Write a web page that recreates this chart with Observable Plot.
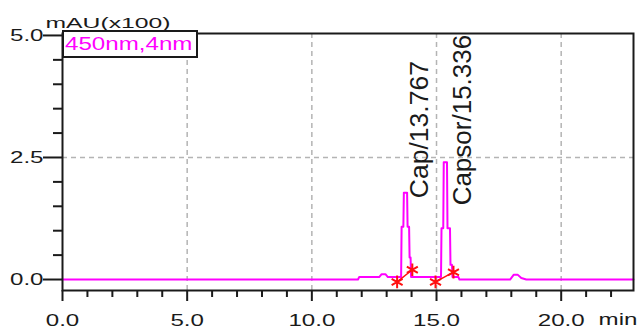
<!DOCTYPE html>
<html>
<head>
<meta charset="utf-8">
<script src="https://cdn.jsdelivr.net/npm/d3@7"></script>
<script src="https://cdn.jsdelivr.net/npm/@observablehq/plot@0.6"></script>
<style>
  html, body { margin: 0; padding: 0; background: #fff; }
  #chart { width: 639px; height: 328px; overflow: hidden; }
</style>
</head>
<body>
<div id="chart"></div>
<script>
// ---- data ----
const sigTime  = [0, 11.85, 11.9, 12.7, 12.8, 12.95, 13.05, 13.58, 13.6, 13.67, 13.69, 13.82, 13.84, 13.9, 13.92, 13.96, 13.98, 15.18, 15.2, 15.27, 15.29, 15.42, 15.44, 15.54, 15.56, 15.62, 15.64, 15.88, 15.92, 17.95, 18.1, 18.25, 18.4, 18.6, 22.9];
const sigValue = [0, 0, 0.05, 0.05, 0.11, 0.11, 0.05, 0.05, 1.08, 1.08, 1.78, 1.78, 1.08, 1.08, 0.45, 0.45, 0.05, 0.05, 1.05, 1.05, 2.40, 2.40, 1.05, 1.05, 0.30, 0.30, 0.05, 0.05, 0, 0, 0.1, 0.1, 0.03, 0, 0];

const peakNames = ["Cap", "Capsor"];
const peakRT    = [13.767, 15.336];
const peakApex  = [1.78, 2.40];

const markerTime  = [13.42, 14.03, 14.96, 15.68];
const markerValue = [-0.05, 0.2, -0.05, 0.15];
const markerPeak  = ["Cap", "Cap", "Capsor", "Capsor"];

const xMajor = [0, 5, 10, 15, 20];
const xMinor = [1, 2, 3, 4, 6, 7, 8, 9, 11, 12, 13, 14, 16, 17, 18, 19, 21, 22];
const yMajor = [0, 2.5, 5];
const yMinor = [0.5, 1, 1.5, 2, 3, 3.5, 4, 4.5];
const xGrid = [5, 10, 15, 20];
const yGrid = [2.5];

const unitLabel = "mAU(x100)";
const timeUnit = "min";
const legendText = "450nm,4nm";

// ---- tables ----
const signal = sigTime.map((t, i) => ({time: t, value: sigValue[i]}));
const peaks = peakNames.map((n, i) => ({name: n, rt: peakRT[i], apex: peakApex[i]}));
const markers = markerTime.map((t, i) => ({time: t, value: markerValue[i], peak: markerPeak[i]}));

const ink = "#1a1a1a";
const fmt = d3.format(".1f");

const chart = Plot.plot({
  width: 639,
  height: 328,
  marginLeft: 62,
  marginRight: 6,
  marginTop: 33,
  marginBottom: 38,
  x: {domain: [0, 22.9], label: null},
  y: {domain: [-0.225, 5.04], label: null},
  style: {fontFamily: "'Liberation Sans', Arial, sans-serif", fontSize: "17px", color: ink, background: "white", overflow: "visible"},
  marks: [
    Plot.ruleX(xGrid, {stroke: "#b4b4b4", strokeWidth: 1.5, strokeDasharray: "5,4"}),
    Plot.ruleY(yGrid, {stroke: "#b4b4b4", strokeWidth: 1.5, strokeDasharray: "5,4"}),
    Plot.line(signal, {x: "time", y: "value", stroke: "#ff00ff", strokeWidth: 2}),
    Plot.line(markers, {x: "time", y: "value", z: "peak", stroke: "#ff1010", strokeWidth: 1.5}),
    Plot.dot(markers, {x: "time", y: "value", symbol: "asterisk", r: 6, stroke: "#ff1010", strokeWidth: 2}),
    Plot.frame({stroke: ink, strokeWidth: 2}),
    Plot.axisY({ticks: yMajor, tickSize: 19, tickPadding: 0, tickFormat: fmt, strokeWidth: 2, label: null}),
    Plot.axisY({ticks: yMinor, tickSize: 9, tickFormat: () => "", strokeWidth: 2, label: null}),
    Plot.axisX({ticks: xMajor, tickSize: 11, tickPadding: 12, tickFormat: fmt, strokeWidth: 2, label: null}),
    Plot.axisX({ticks: xMinor, tickSize: 7, tickFormat: () => "", strokeWidth: 2, label: null}),
    Plot.text([peaks[0]], {x: "rt", y: "apex", text: d => `${d.name}/${d.rt.toFixed(3)}`, rotate: -90, textAnchor: "start", dx: 13.5, dy: 5.5, fontSize: 26.5, fill: ink}),
    Plot.text([peaks[1]], {x: "rt", y: "apex", text: d => `${d.name}/${d.rt.toFixed(3)}`, rotate: -90, textAnchor: "start", dx: 17.7, dy: 43, fontSize: 26, fill: ink}),
    Plot.text([unitLabel], {frameAnchor: "top-left", textAnchor: "start", lineAnchor: "middle", dx: -17, dy: -10, fontSize: 15, fill: ink}),
    Plot.text([timeUnit], {frameAnchor: "bottom-right", textAnchor: "end", lineAnchor: "middle", dx: 4, dy: 29, fontSize: 17, fill: ink})
  ]
});

document.getElementById("chart").appendChild(chart);

const svg = d3.select(chart.tagName.toLowerCase() === "svg" ? chart : chart.querySelector("svg"));

function stretch(selection, s) {
  selection.each(function () {
    const el = d3.select(this);
    const x = +el.attr("x") || 0, y = +el.attr("y") || 0;
    const t = el.attr("transform") || "";
    el.attr("transform", `${t} translate(${x},${y}) scale(${s},1) translate(${-x},${-y})`);
  });
}

// legend box (top-left, inside the frame)
const lg = svg.append("g").attr("aria-label", "legend");
lg.append("rect").attr("x", 63).attr("y", 31).attr("width", 134).attr("height", 26)
  .attr("fill", "white").attr("stroke", ink).attr("stroke-width", 2);
const lt = lg.append("text").attr("x", 65).attr("y", 44).attr("dy", "0.35em")
  .attr("text-anchor", "start")
  .attr("fill", "#ff00ff").attr("font-size", 17.5).text(legendText);

stretch(svg.selectAll('g[aria-label$="tick label"] text'), 1.42);
svg.selectAll("text").each(function () {
  const txt = this.textContent;
  if (txt === timeUnit) stretch(d3.select(this), 1.42);
  if (txt === unitLabel) stretch(d3.select(this), 1.65);
});
stretch(lt, 1.38);
</script>
</body>
</html>
